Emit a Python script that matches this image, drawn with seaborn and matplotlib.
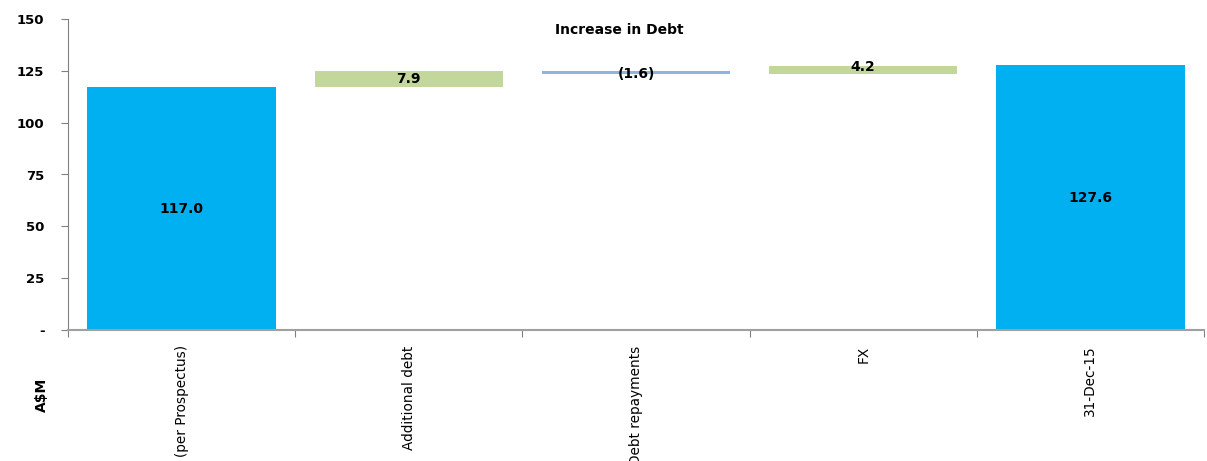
import matplotlib
matplotlib.use("Agg")
import matplotlib.pyplot as plt
import seaborn as sns
import numpy as np
import pandas as pd

categories = ["(per Prospectus)", "Additional debt", "Debt repayments", "FX", "31-Dec-15"]
changes = [117.0, 7.9, -1.6, 4.2, 127.6]
kinds = ["total", "delta", "delta", "delta", "total"]
labels = ["117.0", "7.9", "(1.6)", "4.2", "127.6"]
yticks = [0, 25, 50, 75, 100, 125, 150]
ytick_labels = ["-", "25", "50", "75", "100", "125", "150"]

# waterfall geometry derived from values
bottoms, tops = [], []
running = 0.0
for v, k in zip(changes, kinds):
    if k == "total":
        b, t = 0.0, v
        running = v
    else:
        b, t = min(running, running + v), max(running, running + v)
        running += v
    bottoms.append(b)
    tops.append(t)

colors = []
for v, k in zip(changes, kinds):
    if k == "total":
        colors.append("#00B0F0")
    elif v >= 0:
        colors.append("#C4D79B")
    else:
        colors.append("#8DB4E2")

sns.set_style("white")
plt.rcParams['font.family'] = ['DejaVu Sans']

fig = plt.figure(figsize=(12.07, 4.61), dpi=100)
ax = fig.add_axes([68/1207, 1 - 330/461, (1204-68)/1207, (330-19)/461])

df = pd.DataFrame({"cat": categories, "top": tops, "bottom": bottoms})
sns.barplot(data=df, x="cat", y="top", hue="cat", palette=colors, legend=False,
            width=0.83, ax=ax, saturation=1, linewidth=0)
sns.barplot(data=df, x="cat", y="bottom", color="white", width=0.85, ax=ax,
            saturation=1, linewidth=0)

for i, (b, t, lab) in enumerate(zip(bottoms, tops, labels)):
    mid = (b + t) / 2
    if kinds[i] == "delta" and changes[i] < 0:
        ypos = mid - 0.6
    elif i == 3:
        ypos = t - 0.7
    else:
        ypos = mid
    ax.text(i, ypos, lab, ha="center", va="center", fontsize=10,
            fontweight="bold", color="black")

ax.set_xlim(-0.5, len(categories) - 0.5)
ax.set_ylim(0, 150)
ax.set_yticks(yticks)
ax.set_yticklabels(ytick_labels, fontsize=9.5, fontweight="bold", color="black")
ax.tick_params(axis="y", which="major", direction="out", length=5, width=0.8,
               color="#808080", left=True, pad=12)

ax.set_xticks(range(len(categories)))
ax.set_xticklabels(categories, rotation=90, fontsize=9.8, va="top", ha="center",
                   color="black")
ax.tick_params(axis="x", which="major", length=0, pad=11)
ax.set_xticks(np.arange(-0.5, len(categories)), minor=True)
ax.tick_params(axis="x", which="minor", direction="out", length=5, width=0.8,
               color="#808080", bottom=True)
ax.set_xlabel("")
ax.set_ylabel("")

for s in ["top", "right"]:
    ax.spines[s].set_visible(False)
ax.spines["left"].set_color("#808080")
ax.spines["bottom"].set_color("#A0A0A0")
ax.spines["bottom"].set_linewidth(1.5)
ax.spines["left"].set_linewidth(0.8)

ax.text(0.485, (330 - 30) / 311, "Increase in Debt", transform=ax.transAxes, ha="center",
        va="center", fontsize=10, fontweight="bold", color="black")
fig.text(42/1207, 1 - 395/461, "A$M", rotation=90, ha="center", va="center",
         fontsize=10, fontweight="bold", color="black")

fig.savefig("out.png", dpi=100)
